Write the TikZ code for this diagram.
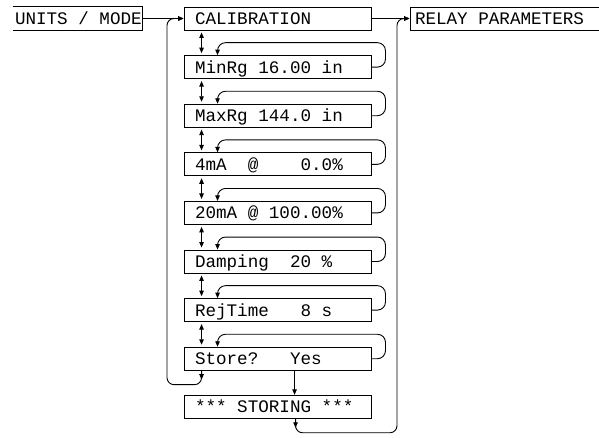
\documentclass[tikz,border=0pt]{standalone}
\usepackage{fontspec}
\newfontfamily\lcdfont{Liberation Mono}
\usetikzlibrary{arrows.meta,calc}
\newcommand\lsp{\hspace*{0.6em}}
\tikzset{
  lcd/.style={draw, line width=0.9pt, minimum height=23pt, text width=165pt, align=left,
    inner xsep=11pt, inner ysep=0pt, text height=12pt, text depth=0pt,
    font=\lcdfont\fontsize{17.6}{20}\selectfont},
  conn/.style={line width=0.9pt, -{Triangle[length=5.5pt,width=4.5pt]}},
  dbl/.style={line width=0.9pt, {Triangle[length=5.5pt,width=4.5pt]}-{Triangle[length=5.5pt,width=4.5pt]}},
  plain/.style={line width=0.9pt}
}
\begin{document}
\begin{tikzpicture}[x=1pt,y=-1pt]
\useasboundingbox (0,0) rectangle (599,437);
\clip (0,0) rectangle (599,437);
% top row
\node[lcd, draw=none, text width=125pt, inner xsep=2pt] (units) at (77.5,18.5) {UNITS\lsp/\lsp MODE};
\draw[plain] (units.north west) -- (units.north east) -- (units.south east) -- (units.south west);
\node[lcd] (cal) at (277.5,18.5) {CALIBRATION};
\node[lcd, text width=190pt, inner xsep=5pt] (relay) at (510,18.5) {RELAY\lsp PARAMETERS};
% stack
\node[lcd] (minrg) at (277.5,67.1) {MinRg\lsp 16.00\lsp in};
\node[lcd] (maxrg) at (277.5,115.7) {MaxRg\lsp 144.0\lsp in};
\node[lcd] (fourma) at (277.5,164.3) {4mA\lsp\lsp @\lsp\lsp\lsp\lsp 0.0\%};
\node[lcd] (twentyma) at (277.5,212.9) {20mA\lsp @\lsp 100.00\%};
\node[lcd] (damping) at (277.5,261.5) {Damping\lsp\lsp 20\lsp\%};
\node[lcd] (rejtime) at (277.5,310.1) {RejTime\lsp\lsp\lsp 8\lsp s};
\node[lcd] (store) at (277.5,358.7) {Store?\lsp\lsp\lsp Yes};
\node[lcd] (storing) at (277.5,406.8) {***\lsp STORING\lsp ***};
\coordinate (ll) at (167,18.5);
\coordinate (rl) at (397,18.5);
% horizontal arrows
\draw[conn] (units.east) -- (cal.west);
\draw[conn] (cal.east) -- (relay.west);
% double arrows and loops
\foreach \p/\n in {cal/minrg, minrg/maxrg, maxrg/fourma, fourma/twentyma, twentyma/damping, damping/rejtime, rejtime/store}{
  \draw[dbl] ($(\p.south west)+(18,2)$) -- ($(\n.north west)+(18,-2)$);
  \draw[conn, rounded corners=8pt] (\n.east) -- ($(\n.east)+(14,0)$) -- ($(\n.north east)+(14,-12.5)$)
     -- ($(\n.north west)+(34,-12.5)$) -- ($(\n.north west)+(34,0)$);
}
% store -> storing
\draw[conn] ($(store.south west)+(111,0)$) -- ($(storing.north west)+(111,0)$);
% left return loop
\draw[conn, rounded corners=7pt] ($(store.south west)+(18,0)$) -- ($(store.south west)+(18,14)$) -| (ll) -- (cal.west);
\draw[conn] ($(store.south west)+(18,0)$) -- ($(store.south west)+(18,9)$);
% right return loop
\draw[conn, rounded corners=7pt] ($(storing.south west)+(112,0)$) -- ($(storing.south west)+(112,14)$) -| (rl) -- (relay.west);
\draw[conn] ($(storing.south west)+(112,0)$) -- ($(storing.south west)+(112,9)$);
\end{tikzpicture}
\end{document}
